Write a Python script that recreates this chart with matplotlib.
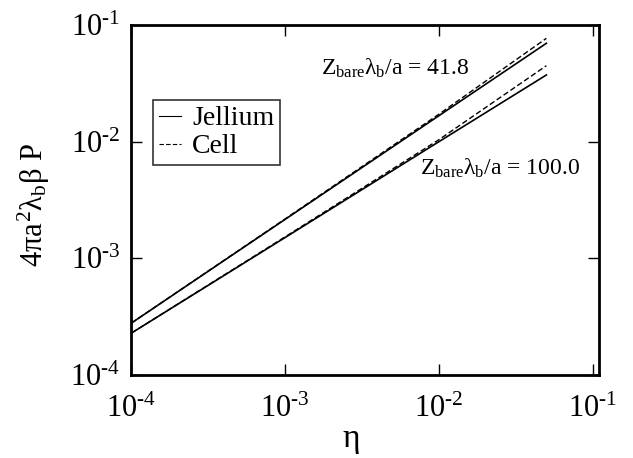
import numpy as np
import matplotlib
matplotlib.use("Agg")
import matplotlib.pyplot as plt
from matplotlib.ticker import FuncFormatter

# --- data (log-log) ---
eta = [1e-4, 1e-3, 1e-2, 0.05]

# Z_bare lambda_b / a = 41.8
jell_418 = [2.79e-4, 2.16e-3, 1.67e-2, 6.97e-2]
cell_418 = [2.79e-4, 2.18e-3, 1.72e-2, 7.69e-2]

# Z_bare lambda_b / a = 100.0
jell_100 = [2.29e-4, 1.51e-3, 1.00e-2, 3.73e-2]
cell_100 = [2.29e-4, 1.53e-3, 1.04e-2, 4.48e-2]

decades = [1e-4, 1e-3, 1e-2, 1e-1]

plt.rcParams["font.family"] = ["Liberation Serif", "DejaVu Serif"]
plt.rcParams["mathtext.fontset"] = "custom"
plt.rcParams["mathtext.rm"] = "Liberation Serif"
plt.rcParams["mathtext.it"] = "Liberation Serif"
plt.rcParams["mathtext.bf"] = "Liberation Serif:bold"
plt.rcParams["axes.unicode_minus"] = False

fig = plt.figure(figsize=(6.33, 4.58), dpi=100)
ax = fig.add_axes([0.2077, 0.1812, 0.7386, 0.7642])

ax.plot(eta, jell_418, color="black", lw=1.2, label="Jellium")
ax.plot(eta, cell_418, color="black", lw=1.0, ls=(0, (4, 2)), label="Cell")
ax.plot(eta, jell_100, color="black", lw=1.2)
ax.plot(eta, cell_100, color="black", lw=1.0, ls=(0, (4, 2)))

ax.set_xscale("log")
ax.set_yscale("log")
ax.set_xlim(1e-4, 0.11)
ax.set_ylim(1e-4, 1e-1)


def pow_fmt(v, pos):
    e = int(round(np.log10(v)))
    return r"$10^{\text{%d}}$" % e


ax.set_xticks(decades)
ax.set_yticks(decades)
ax.minorticks_off()
ax.xaxis.set_major_formatter(FuncFormatter(pow_fmt))
ax.yaxis.set_major_formatter(FuncFormatter(pow_fmt))
ax.tick_params(which="major", direction="in", length=8, width=1,
               top=True, right=True, labelsize=22)
ax.tick_params(axis="x", pad=14)
ax.tick_params(axis="y", pad=8)

for s in ax.spines.values():
    s.set_linewidth(2)

ax.set_xlabel(r"$\eta$", fontsize=24)
ax.xaxis.set_label_coords(0.47, -0.145)
ax.set_ylabel(r"$4\pi a^2\lambda_b\beta\ P$", fontsize=22)
ax.yaxis.set_label_coords(-0.17, 0.486)

ax.text(1.70e-3, 0.0373, r"$Z_{bare}\lambda_b/a$ = 41.8", fontsize=17,
        ha="left", va="baseline")
ax.text(7.5e-3, 5.19e-3, r"$Z_{bare}\lambda_b/a$ = 100.0", fontsize=17,
        ha="left", va="baseline")

leg = ax.legend(loc="upper left", bbox_to_anchor=(0.047, 0.785), fontsize=20,
                frameon=True, fancybox=False, handlelength=0.8,
                handletextpad=0.4, borderpad=0.2, labelspacing=0.1,
                borderaxespad=0)
leg.get_frame().set_edgecolor("black")
leg.get_frame().set_linewidth(1.2)
for line in leg.get_lines():
    line.set_linewidth(0.8)

fig.savefig("out.png", dpi=100)
